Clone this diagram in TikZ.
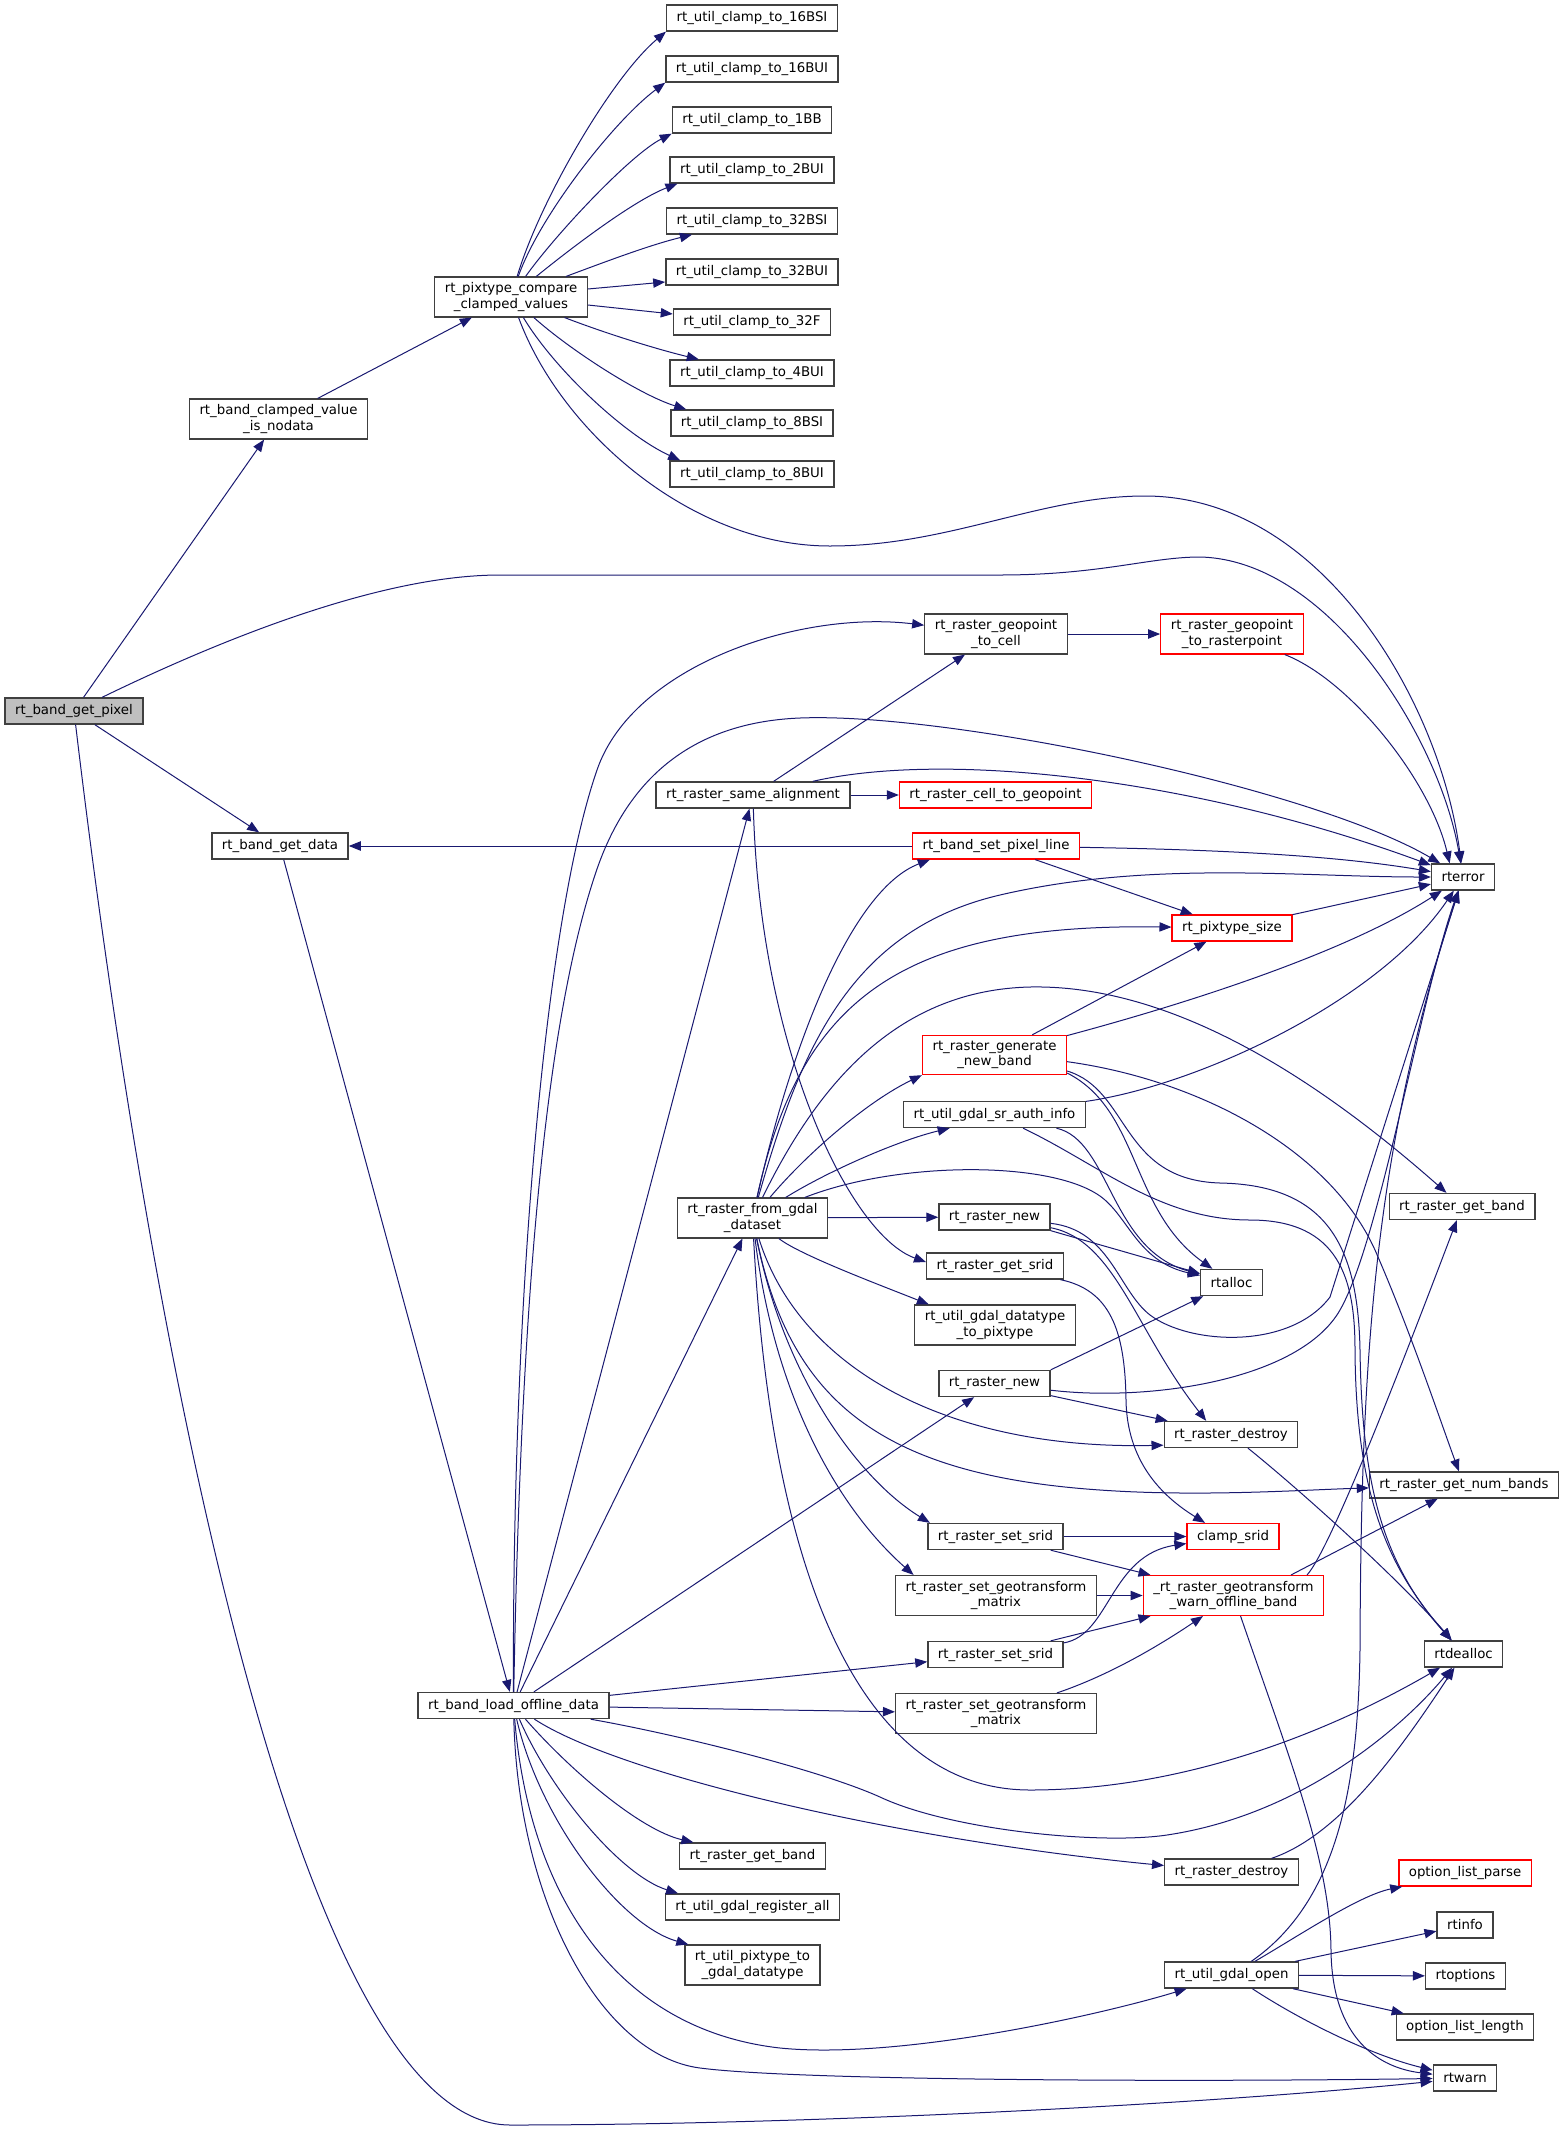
\documentclass[tikz,border=0pt]{standalone}
\usepackage{fontspec}
\setmainfont{DejaVu Sans}
\usetikzlibrary{arrows.meta}

\definecolor{callblue}{HTML}{191970}
\definecolor{rootgray}{HTML}{BFBFBF}
\tikzset{
  fn/.style={draw=black!75, fill=white, line width=1pt, inner xsep=7.5pt, inner ysep=4.3pt,
    minimum height=19.5pt, align=center, font=\fontsize{10}{11.3}\selectfont},
  fnred/.style={fn, draw=red},
  fnroot/.style={fn, fill=rootgray},
  call/.style={->, draw=callblue, line width=0.75pt},
}

\begin{document}
\begin{tikzpicture}[x=0.75pt, y=-0.75pt, >={Triangle[length=9pt,width=7pt]}]
\useasboundingbox (0,0) rectangle (1561,2131);

% functions
\node[fnroot] (pix) at (74,711) {rt\_band\_get\_pixel};
\node[fn] (cvn) at (278.5,419) {rt\_band\_clamped\_value\\\_is\_nodata};
\node[fn] (pcv) at (511,297) {rt\_pixtype\_compare\\\_clamped\_values};
\node[fn] (c16s) at (752,18) {rt\_util\_clamp\_to\_16BSI};
\node[fn] (c16u) at (752,69) {rt\_util\_clamp\_to\_16BUI};
\node[fn] (c1bb) at (752,120) {rt\_util\_clamp\_to\_1BB};
\node[fn] (c2bui) at (752,170) {rt\_util\_clamp\_to\_2BUI};
\node[fn] (c32s) at (752,221) {rt\_util\_clamp\_to\_32BSI};
\node[fn] (c32u) at (752,272) {rt\_util\_clamp\_to\_32BUI};
\node[fn] (c32f) at (752,322) {rt\_util\_clamp\_to\_32F};
\node[fn] (c4bui) at (752,373) {rt\_util\_clamp\_to\_4BUI};
\node[fn] (c8bsi) at (752,423) {rt\_util\_clamp\_to\_8BSI};
\node[fn] (c8bui) at (752,474) {rt\_util\_clamp\_to\_8BUI};
\node[fn] (gdata) at (280,846) {rt\_band\_get\_data};
\node[fn] (load) at (513.5,1705.5) {rt\_band\_load\_offline\_data};
\node[fn] (samealign) at (753,795) {rt\_raster\_same\_alignment};
\node[fn] (fromgdal) at (752.5,1218) {rt\_raster\_from\_gdal\\\_dataset};
\node[fn] (getband2) at (752.5,1856) {rt\_raster\_get\_band};
\node[fn] (gdalreg) at (752.5,1907) {rt\_util\_gdal\_register\_all};
\node[fn] (pix2gdal) at (752.5,1965) {rt\_util\_pixtype\_to\\\_gdal\_datatype};
\node[fn] (geocell) at (996,634) {rt\_raster\_geopoint\\\_to\_cell};
\node[fnred] (georaster) at (1232,634) {rt\_raster\_geopoint\\\_to\_rasterpoint};
\node[fnred] (cellgeo) at (995.5,795) {rt\_raster\_cell\_to\_geopoint};
\node[fnred] (setpixline) at (996,846) {rt\_band\_set\_pixel\_line};
\node[fn] (rterror) at (1463,877) {rterror};
\node[fnred] (pixsize) at (1232,928) {rt\_pixtype\_size};
\node[fnred] (genband) at (994.5,1055) {rt\_raster\_generate\\\_new\_band};
\node[fn] (srauth) at (994.5,1114.5) {rt\_util\_gdal\_sr\_auth\_info};
\node[fn] (getband1) at (1462,1206.5) {rt\_raster\_get\_band};
\node[fn] (rnew1) at (994.5,1217) {rt\_raster\_new};
\node[fn] (getsrid) at (995,1266) {rt\_raster\_get\_srid};
\node[fn] (rtalloc) at (1231.5,1282.5) {rtalloc};
\node[fn] (dt2pix) at (995,1325) {rt\_util\_gdal\_datatype\\\_to\_pixtype};
\node[fn] (rnew2) at (994.5,1383.5) {rt\_raster\_new};
\node[fn] (rdestroy1) at (1231,1434.5) {rt\_raster\_destroy};
\node[fn] (numbands) at (1464,1485) {rt\_raster\_get\_num\_bands};
\node[fn] (setsrid1) at (995.5,1536.5) {rt\_raster\_set\_srid};
\node[fnred] (clampsrid) at (1233,1536.5) {clamp\_srid};
\node[fn] (setgeo1) at (996,1595.5) {rt\_raster\_set\_geotransform\\\_matrix};
\node[fnred] (warnoff) at (1233.5,1595.5) {\_rt\_raster\_geotransform\\\_warn\_offline\_band};
\node[fn] (setsrid2) at (995.5,1654.5) {rt\_raster\_set\_srid};
\node[fn] (rtdealloc) at (1463.5,1654) {rtdealloc};
\node[fn] (setgeo2) at (996,1713.5) {rt\_raster\_set\_geotransform\\\_matrix};
\node[fn] (rdestroy2) at (1231.5,1872) {rt\_raster\_destroy};
\node[fnred] (optparse) at (1465,1873) {option\_list\_parse};
\node[fn] (rtinfo) at (1465,1925) {rtinfo};
\node[fn] (gdalopen) at (1231.5,1975) {rt\_util\_gdal\_open};
\node[fn] (rtoptions) at (1465.5,1976) {rtoptions};
\node[fn] (optlength) at (1465,2027) {option\_list\_length};
\node[fn] (rtwarn) at (1465,2078) {rtwarn};

% calls of rt_band_get_pixel
\draw[call] (pix) -- (cvn);
\draw[call] (pix) .. controls (220,640) and (380,575) .. (500,575) -- (1000,575) .. controls (1100,575) and (1150,557) .. (1200,557) .. controls (1330,560) and (1440,740) .. (rterror);
\draw[call] (pix) -- (gdata);
\draw[call] (pix) .. controls (150,1350) and (300,2125) .. (510,2125) .. controls (800,2125) and (1200,2105) .. (rtwarn);

% clamped values
\draw[call] (cvn) -- (pcv);
\draw[call] (pcv) .. controls (540,200) and (612,77) .. (c16s.south west);
\draw[call] (pcv) .. controls (540,215) and (615,120) .. (c16u.south west);
\draw[call] (pcv) .. controls (555,235) and (630,155) .. (c1bb.south west);
\draw[call] (pcv) .. controls (575,245) and (635,200) .. ([xshift=6pt]c2bui.south west);
\draw[call] (pcv) .. controls (610,260) and (650,245) .. ([xshift=19.5pt]c32s.south west);
\draw[call] ([yshift=6pt]pcv.east) -- ([yshift=-7.5pt]c32u.west);
\draw[call] ([yshift=-6pt]pcv.east) -- ([yshift=6pt]c32f.west);
\draw[call] (pcv) .. controls (610,335) and (660,350) .. ([xshift=22pt]c4bui.north west);
\draw[call] (pcv) .. controls (570,350) and (640,395) .. ([xshift=12pt]c8bsi.north west);
\draw[call] (pcv) .. controls (555,370) and (625,435) .. ([xshift=8pt]c8bui.north west);
\draw[call] (pcv) .. controls (560,430) and (690,546) .. (830,546) .. controls (950,546) and (1040,496) .. (1145,496) .. controls (1320,496) and (1440,700) .. (rterror);

% band data
\draw[call] (gdata) -- (load);
\draw[call] (setpixline) -- (gdata);
\draw[call] (setpixline) .. controls (1250,850) and (1350,858) .. (rterror);
\draw[call] (setpixline) -- (pixsize);

% rt_band_load_offline_data
\draw[call] (load) .. controls (512,1300) and (545,920) .. (597,770) .. controls (633,665) and (800,610) .. (geocell);
\draw[call] (load) .. controls (521,1300) and (545,1020) .. (597,869) .. controls (631,771) and (700,722) .. (800,718) .. controls (950,712) and (1312,788) .. ([xshift=7pt]rterror.north west);
\draw[call] (load) -- (samealign);
\draw[call] (load) -- (fromgdal);
\draw[call] (load) -- (rnew2);
\draw[call] (load) -- (setsrid2);
\draw[call] (load) -- (setgeo2);
\draw[call] (load) .. controls (680,1735) and (820,1770) .. (880,1797) .. controls (950,1830) and (1100,1845) .. (1167,1835) .. controls (1300,1815) and (1400,1730) .. (rtdealloc);
\draw[call] (load) .. controls (620,1775) and (900,1840) .. (rdestroy2);
\draw[call] (load) .. controls (570,1770) and (640,1830) .. (getband2);
\draw[call] (load) .. controls (550,1790) and (620,1875) .. ([xshift=10pt]gdalreg.north west);
\draw[call] (load) .. controls (540,1820) and (620,1925) .. ([xshift=3pt]pix2gdal.north west);
\draw[call] (load) .. controls (530,1900) and (620,2030) .. (780,2048) .. controls (900,2060) and (1100,2015) .. (gdalopen);
\draw[call] (load) .. controls (518,1900) and (600,2055) .. (700,2068) .. controls (800,2081) and (1200,2082) .. (rtwarn);

% rt_raster_from_gdal_dataset
\draw[call] (fromgdal) .. controls (790,1050) and (850,890) .. ([xshift=13.5pt]setpixline.south west);
\draw[call] (fromgdal) .. controls (800,1050) and (850,930) .. (1000,895) .. controls (1150,860) and (1300,877) .. (rterror);
\draw[call] (fromgdal) .. controls (800,1000) and (900,923) .. (pixsize);
\draw[call] (fromgdal) .. controls (820,1080) and (900,990) .. (1030,987) .. controls (1180,984) and (1330,1090) .. (getband1);
\draw[call] (fromgdal) .. controls (810,1150) and (870,1100) .. (genband.south west);
\draw[call] (fromgdal) .. controls (830,1170) and (900,1140) .. ([xshift=35pt]srauth.south west);
\draw[call] (fromgdal) .. controls (900,1160) and (1060,1160) .. (1105,1200) .. controls (1130,1222) and (1140,1262) .. (rtalloc);
\draw[call] (fromgdal) -- (rnew1);
\draw[call] (fromgdal) .. controls (800,1255) and (880,1285) .. ([xshift=11pt]dt2pix.north west);
\draw[call] (fromgdal) .. controls (800,1370) and (950,1450) .. ([yshift=-8pt]rdestroy1.west);
\draw[call] (fromgdal) .. controls (790,1400) and (880,1475) .. (1100,1490) .. controls (1200,1497) and (1300,1490) .. (numbands);
\draw[call] (fromgdal) .. controls (785,1380) and (860,1480) .. ([xshift=2pt]setsrid1.north west);
\draw[call] (fromgdal) .. controls (775,1400) and (840,1510) .. ([xshift=14pt]setgeo1.north west);
\draw[call] (fromgdal) .. controls (770,1550) and (850,1790) .. (1030,1790) .. controls (1200,1790) and (1350,1720) .. (rtdealloc);

% rt_raster_same_alignment
\draw[call] (samealign) -- (geocell);
\draw[call] (samealign) -- (cellgeo);
\draw[call] (samealign) .. controls (950,750) and (1200,780) .. (rterror);
\draw[call] (samealign) .. controls (760,1050) and (850,1235) .. ([yshift=3pt]getsrid.west);
\draw[call] (geocell) -- (georaster);
\draw[call] (georaster) .. controls (1350,680) and (1430,780) .. ([xshift=-10pt]rterror.north);
\draw[call] (pixsize) -- (rterror);

% rt_raster_generate_new_band, rt_util_gdal_sr_auth_info
\draw[call] (genband) -- (pixsize);
\draw[call] (genband) .. controls (1200,1000) and (1350,950) .. (rterror);
\draw[call] ([yshift=-5pt]genband.east) .. controls (1200,1080) and (1330,1150) .. (1375,1250) .. controls (1410,1330) and (1440,1420) .. (numbands);
\draw[call] ([yshift=-13.5pt]genband.east) .. controls (1140,1110) and (1130,1210) .. (rtalloc);
\draw[call] ([yshift=-12pt]genband.east) .. controls (1130,1090) and (1120,1180) .. (1220,1183) .. controls (1330,1185) and (1358,1250) .. (1360,1350) .. controls (1362,1480) and (1380,1560) .. (rtdealloc);
\draw[call] (srauth) .. controls (1200,1085) and (1380,1000) .. (rterror);
\draw[call] (srauth) .. controls (1110,1140) and (1110,1250) .. (rtalloc);
\draw[call] (srauth) .. controls (1100,1165) and (1160,1220) .. (1250,1220) .. controls (1340,1220) and (1355,1280) .. (1355,1350) .. controls (1356,1500) and (1390,1570) .. (rtdealloc);

% rt_raster_new
\draw[call] (rnew1.south east) -- (rtalloc);
\draw[call] (rnew1) .. controls (1110,1230) and (1118,1290) .. (1150,1315) .. controls (1190,1345) and (1290,1350) .. (1330,1297) -- (rterror);
\draw[call] (rnew1) .. controls (1115,1240) and (1135,1330) .. ([xshift=32pt]rdestroy1.north west);
\draw[call] (rnew2.north east) -- (rtalloc);
\draw[call] (rnew2) .. controls (1150,1402) and (1300,1380) .. (1340,1310) .. controls (1380,1240) and (1420,1000) .. (rterror);
\draw[call] (rnew2) -- (rdestroy1);
\draw[call] (getsrid) .. controls (1110,1290) and (1125,1330) .. (1126,1400) .. controls (1127,1460) and (1160,1495) .. ([xshift=14pt]clampsrid.north west);

% srid and geotransform
\draw[call] (rdestroy1) .. controls (1300,1490) and (1400,1580) .. (rtdealloc);
\draw[call] (setsrid1) -- (clampsrid);
\draw[call] (setsrid1) -- (warnoff);
\draw[call] (setgeo1) -- (warnoff);
\draw[call] (setsrid2) .. controls (1110,1635) and (1110,1555) .. (clampsrid);
\draw[call] (setsrid2) -- (warnoff);
\draw[call] (setgeo2) .. controls (1110,1675) and (1160,1645) .. (warnoff);
\draw[call] ([xshift=-25pt]warnoff.north east) -- (numbands);
\draw[call] ([xshift=-13pt]warnoff.north east) .. controls (1330,1550) and (1400,1370) .. (getband1);
\draw[call] (warnoff) .. controls (1290,1760) and (1330,1860) .. (1331,1950) .. controls (1332,2040) and (1380,2068) .. (rtwarn);
\draw[call] (rdestroy2) .. controls (1340,1835) and (1400,1750) .. (rtdealloc);

% rt_util_gdal_open
\draw[call] (gdalopen) .. controls (1300,1935) and (1360,1895) .. ([xshift=3pt]optparse.south west);
\draw[call] (gdalopen) -- (rtinfo);
\draw[call] (gdalopen) -- (rtoptions);
\draw[call] (gdalopen) -- (optlength);
\draw[call] (gdalopen) .. controls (1300,2020) and (1370,2055) .. (rtwarn);
\draw[call] (gdalopen) .. controls (1340,1900) and (1358,1780) .. (1360,1650) .. controls (1361,1350) and (1375,1150) .. (rterror);
\end{tikzpicture}
\end{document}
